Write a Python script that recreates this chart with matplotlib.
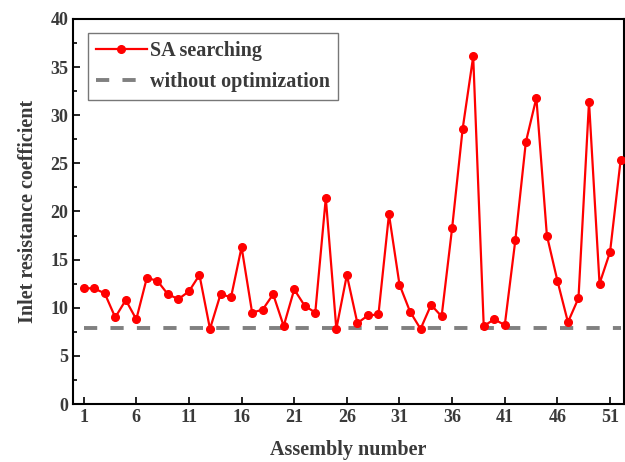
import numpy as np
import matplotlib
matplotlib.use("Agg")
import matplotlib.pyplot as plt
from matplotlib.ticker import MultipleLocator

# inlet resistance coefficient per assembly
assembly = np.arange(1, 53)
sa_values = [12.05, 12.0, 11.5, 9.0, 10.8, 8.8, 13.1, 12.8, 11.4, 10.9,
             11.7, 13.4, 7.8, 11.4, 11.1, 16.3, 9.5, 9.8, 11.4, 8.1,
             11.9, 10.2, 9.5, 21.4, 7.8, 13.4, 8.4, 9.2, 9.3, 19.7,
             12.4, 9.6, 7.8, 10.3, 9.1, 18.3, 28.6, 36.1, 8.1, 8.8,
             8.2, 17.0, 27.2, 31.8, 17.5, 12.8, 8.5, 11.0, 31.4, 12.5,
             15.8, 25.3]
baseline = 7.85
xticks = [1, 6, 11, 16, 21, 26, 31, 36, 41, 46, 51]

plt.rcParams['font.family'] = ['Liberation Serif', 'DejaVu Serif']
txt = '#3a3a3a'

fig = plt.figure(figsize=(6.25, 4.62), dpi=100)
ax = fig.add_axes([0.117, 0.1255, 0.881, 0.8335])

ax.plot(assembly, sa_values, color='red', lw=1.6, marker='o', ms=5.5,
        label='SA searching', zorder=3)
ax.plot([assembly[0], assembly[-1]], [baseline, baseline], color='#808080',
        lw=2.8, ls=(0, (3.4, 3.4)), label='without optimization', zorder=2)

ax.set_xlim(0, 52.3)
ax.set_ylim(0, 40)
ax.set_xticks(xticks)
ax.yaxis.set_major_locator(MultipleLocator(5))
ax.yaxis.set_minor_locator(MultipleLocator(2.5))
ax.tick_params(direction='in', which='both', labelsize=13, colors='black',
               labelcolor=txt, width=1.2)
ax.tick_params(which='major', length=5)
ax.tick_params(which='minor', length=3)
for lab in ax.get_xticklabels() + ax.get_yticklabels():
    lab.set_fontweight('bold')
for s in ax.spines.values():
    s.set_linewidth(1.5)

ax.set_xlabel('Assembly number', fontsize=14.5, fontweight='bold', color=txt, labelpad=10)
ax.set_ylabel('Inlet resistance coefficient', fontsize=14.5, fontweight='bold', color=txt, labelpad=9)

leg = ax.legend(loc='upper left', bbox_to_anchor=(0.02, 0.975),
                frameon=True, fancybox=False, edgecolor='#555555',
                handlelength=2.5, handletextpad=0.15, borderpad=0.4,
                labelspacing=0.55, borderaxespad=0.2,
                prop={'weight': 'bold', 'size': 14.5})
leg.get_frame().set_linewidth(1.0)
for t in leg.get_texts():
    t.set_color(txt)

fig.savefig('out.png', dpi=100)
